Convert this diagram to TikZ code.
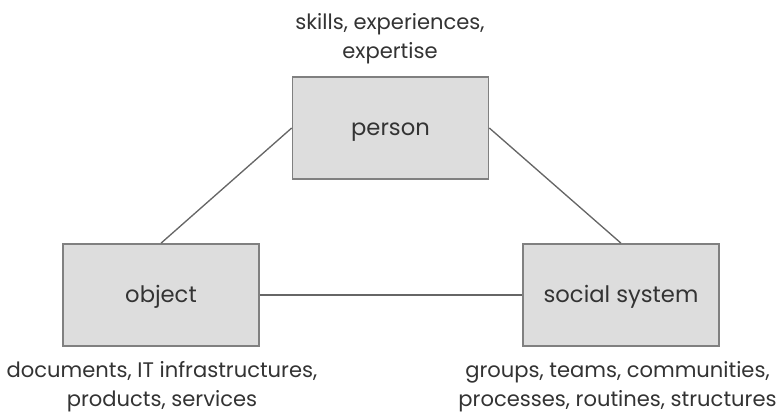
\documentclass[tikz,border=0pt]{standalone}
\usepackage{fontspec}
\setmainfont{Poppins}
\definecolor{boxfill}{HTML}{DDDDDD}
\definecolor{boxline}{HTML}{808080}
\definecolor{linkc}{HTML}{666666}
\definecolor{txt}{HTML}{333333}
\begin{document}
\begin{tikzpicture}[x=0.75pt,y=-0.75pt,
  entity/.style={draw=boxline,fill=boxfill,line width=1.2pt,minimum width=147pt,minimum height=76.5pt,inner sep=0pt,text=txt,font=\fontsize{17}{20}\selectfont,text height=1.15em,text depth=0em},
  desc/.style={align=center,text=txt,inner sep=0pt,font=\fontsize{15.8}{21.75}\selectfont},
  link/.style={draw=linkc,line width=1pt}]
\useasboundingbox (0,0) rectangle (779,413);
\node[entity] (person) at (390.5,128) {person};
\node[entity] (object) at (161,295) {object};
\node[entity] (social) at (621,295) {social system};
\node[desc] (pd) at (390,39) {skills, experiences,\\expertise};
\node[desc] (od) at (162,387) {documents, IT infrastructures,\\products, services};
\node[desc] (sd) at (617.5,387) {groups, teams, communities,\\processes, routines, structures};
\draw[link] (person.west) -- (object.north);
\draw[link] (person.east) -- (social.north);
\draw[link] (object.east) -- (social.west);
\end{tikzpicture}
\end{document}
